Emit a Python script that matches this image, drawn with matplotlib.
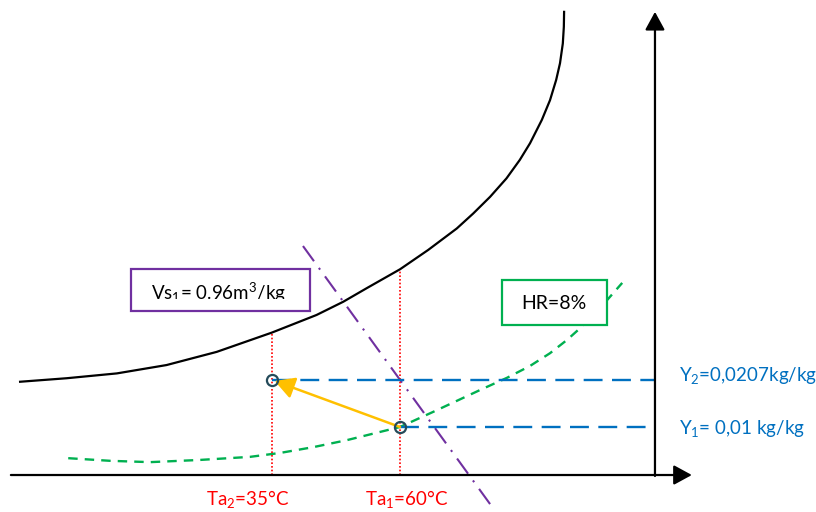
import matplotlib
matplotlib.use("Agg")
import matplotlib.pyplot as plt
from matplotlib.patches import Rectangle, FancyArrowPatch
from matplotlib.transforms import Bbox, TransformedBbox

plt.rcParams["font.family"] = ["Lato", "DejaVu Sans"]
plt.rcParams["mathtext.fontset"] = "custom"
plt.rcParams["mathtext.rm"] = "Lato"
plt.rcParams["mathtext.it"] = "Lato:italic"

# states of the air (temperature in degC, humidity in kg/kg)
Ta1, Ta2 = 60, 35
Y1, Y2 = 0.01, 0.0207

# saturation curve
sat_T = [-14.2, -5.1, 4.7, 14.4, 24.2, 35.0, 43.7, 48.9, 53.5, 60.0, 65.5, 71.1, 74.3,
         77.6, 80.8, 83.4, 85.4, 87.7, 89.3, 90.5, 91.25, 91.8, 92.0, 92.05]
sat_Y = [0.0203, 0.0211, 0.0222, 0.0241, 0.0271, 0.0315, 0.0355, 0.0385, 0.0416, 0.0459,
         0.0503, 0.0552, 0.0586, 0.0624, 0.0666, 0.0708, 0.0746, 0.0799, 0.0844,
         0.0890, 0.0928, 0.0973, 0.1011, 0.1045]
sat_at_Ta2, sat_at_Ta1 = 0.0315, 0.0459

# relative humidity HR = 8 %
hr_T = [-4.8, 3.4, 11.2, 20.9, 30.7, 36.6, 43.0, 49.6, 60.0, 66.4, 75.6, 80.9, 85.4, 89.3,
        92.6, 94.8, 99.1, 103.4]
hr_Y = [0.0029, 0.0023, 0.0020, 0.0025, 0.0032, 0.0041, 0.0054, 0.0070, 0.0100, 0.0134,
        0.0184, 0.0212, 0.0239, 0.0268, 0.0298, 0.0321, 0.0371, 0.0428]

# specific volume line Vs1
vs_T = [41.05, 78.0]
vs_Y = [0.0512, -0.0082]

# chart frame
T_axis = 109.8
Y_axis = -0.00093
T_start, T_end = -16.0, 117.0
Y_top = 0.1045

fig = plt.figure(figsize=(8.16, 5.12), dpi=100)
ax = fig.add_axes([0, 0, 1, 1])
ax.set_xlim(-18.125, 141.25)
ax.set_ylim(-0.00935, 0.1072)
ax.axis("off")

blue = "#0070C0"
green = "#00B050"
red = "#FF0000"
purple = "#7030A0"
orange = "#FFC000"

# axes with arrow heads
for start, end in [((T_start, Y_axis), (T_end, Y_axis)),
                   ((T_axis, -0.00115), (T_axis, Y_top))]:
    ax.add_patch(FancyArrowPatch(start, end, arrowstyle="-|>,head_length=0.55,head_width=0.3",
                                 mutation_scale=20, color="black", lw=1.6, zorder=5,
                                 shrinkA=0, shrinkB=0))

ax.plot(sat_T, sat_Y, color="black", lw=1.6, zorder=3, solid_joinstyle="round")
ax.plot(hr_T, hr_Y, color=green, lw=1.7, ls=(0, (4, 3)), zorder=2)
ax.plot(vs_T, vs_Y, color=purple, lw=1.5, ls=(0, (9, 4, 1, 4)), zorder=2)

# vertical temperature lines up to saturation
for T, top in [(Ta2, sat_at_Ta2), (Ta1, sat_at_Ta1)]:
    ax.plot([T, T], [Y_axis, top], color=red, lw=1.2, ls=(0, (1, 1.2)), zorder=2)

# humidity lines to the right axis
ax.plot([Ta2, T_axis], [Y2, Y2], color=blue, lw=1.7, ls=(0, (8, 4)), zorder=2)
ax.plot([Ta1, T_axis], [Y1, Y1], color=blue, lw=1.7, ls=(0, (8, 4)), zorder=2)

# cooling path 1 -> 2
ax.add_patch(FancyArrowPatch((Ta1, Y1), (Ta2, Y2), arrowstyle="-|>,head_length=0.6,head_width=0.33",
                             mutation_scale=20, color=orange, lw=1.8, zorder=4,
                             shrinkA=0, shrinkB=2))
ax.plot([Ta2, Ta1], [Y2, Y1], ls="none", marker="o", ms=8, mfc="none",
        mec="#254B5A", mew=1.6, zorder=6)

# labels
ax.text(30.2, -0.0063, r"Ta$_2$=35°C", color=red, fontsize=13.5, ha="center", va="center")
ax.text(61.2, -0.0063, r"Ta$_1$=60°C", color=red, fontsize=13.5, ha="center", va="center")
ax.text(114.5, Y2 + 0.0011, r"Y$_2$=0,0207kg/kg", color=blue, fontsize=13.5, ha="left", va="center")
ax.text(114.5, Y1 - 0.0004, r"Y$_1$= 0,01 kg/kg", color=blue, fontsize=13.5, ha="left", va="center")

# HR box
ax.add_patch(Rectangle((79.9, 0.0332), 20.5, 0.0103, fc="white", ec=green, lw=1.6, zorder=7))
ax.text(90.1, 0.0381, "HR=8%", fontsize=14, ha="center", va="center", zorder=8)

# Vs box, text cut at the bottom edge of its frame
ax.add_patch(Rectangle((7.46, 0.0364), 34.94, 0.0096, fc="white", ec=purple, lw=1.6, zorder=7))
t = ax.text(11.4, 0.0389, r"Vs$_1$= 0.96m$^3$/kg", fontsize=13.5, ha="left", va="baseline", zorder=8)
t.set_clip_box(TransformedBbox(Bbox([[7.46, 0.03925], [42.4, 0.0460]]), ax.transData))
t.set_clip_on(True)

fig.savefig("out.png", dpi=100)
